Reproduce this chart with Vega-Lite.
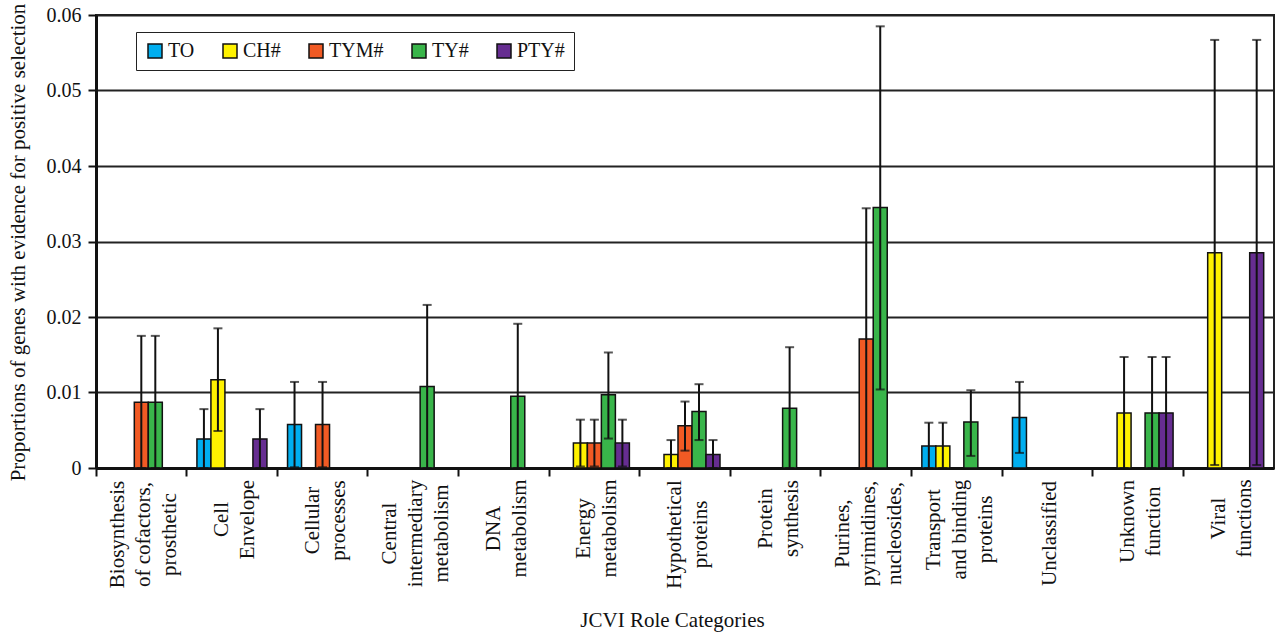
{
  "$schema": "https://vega.github.io/schema/vega-lite/v6.json",
  "width": 1178,
  "height": 453,
  "autosize": "none",
  "padding": {"left": 96, "top": 15, "right": 2, "bottom": 165},
  "background": "white",
  "config": {
    "font": "Liberation Serif",
    "view": {"stroke": "#222", "strokeWidth": 2},
    "axis": {"labelFont": "Liberation Serif", "titleFont": "Liberation Serif", "labelColor": "#111", "titleColor": "#111", "titleFontWeight": "normal"},
    "legend": {"labelFont": "Liberation Serif"}
  },
  "data": {
    "values": [
      {"category": "Biosynthesis of cofactors, prosthetic", "series": "TYM#", "value": 0.0087, "lo": 0.0, "hi": 0.0175},
      {"category": "Biosynthesis of cofactors, prosthetic", "series": "TY#", "value": 0.0087, "lo": 0.0, "hi": 0.0175},
      {"category": "Cell Envelope", "series": "TO", "value": 0.00385, "lo": 0.0, "hi": 0.0078},
      {"category": "Cell Envelope", "series": "CH#", "value": 0.0117, "lo": 0.0049, "hi": 0.0185},
      {"category": "Cell Envelope", "series": "PTY#", "value": 0.00385, "lo": 0.0, "hi": 0.0078},
      {"category": "Cellular processes", "series": "TO", "value": 0.00575, "lo": 0.0001, "hi": 0.0114},
      {"category": "Cellular processes", "series": "TYM#", "value": 0.00575, "lo": 0.0001, "hi": 0.0114},
      {"category": "Central intermediary metabolism", "series": "TY#", "value": 0.0108, "lo": 0.0, "hi": 0.0216},
      {"category": "DNA metabolism", "series": "TY#", "value": 0.0095, "lo": 0.0, "hi": 0.0191},
      {"category": "Energy metabolism", "series": "CH#", "value": 0.0033, "lo": 0.0002, "hi": 0.0064},
      {"category": "Energy metabolism", "series": "TYM#", "value": 0.0033, "lo": 0.0002, "hi": 0.0064},
      {"category": "Energy metabolism", "series": "TY#", "value": 0.0097, "lo": 0.0039, "hi": 0.0153},
      {"category": "Energy metabolism", "series": "PTY#", "value": 0.0033, "lo": 0.0002, "hi": 0.0064},
      {"category": "Hypothetical proteins", "series": "CH#", "value": 0.0018, "lo": 0.0, "hi": 0.0037},
      {"category": "Hypothetical proteins", "series": "TYM#", "value": 0.0056, "lo": 0.0023, "hi": 0.0088},
      {"category": "Hypothetical proteins", "series": "TY#", "value": 0.0075, "lo": 0.0037, "hi": 0.0111},
      {"category": "Hypothetical proteins", "series": "PTY#", "value": 0.0018, "lo": 0.0, "hi": 0.0037},
      {"category": "Protein synthesis", "series": "TY#", "value": 0.0079, "lo": 0.0, "hi": 0.016},
      {"category": "Purines, pyrimidines, nucleosides,", "series": "TYM#", "value": 0.0171, "lo": 0.0, "hi": 0.0344},
      {"category": "Purines, pyrimidines, nucleosides,", "series": "TY#", "value": 0.0345, "lo": 0.0104, "hi": 0.0585},
      {"category": "Transport and binding proteins", "series": "TO", "value": 0.0029, "lo": 0.0, "hi": 0.006},
      {"category": "Transport and binding proteins", "series": "CH#", "value": 0.0029, "lo": 0.0, "hi": 0.006},
      {"category": "Transport and binding proteins", "series": "TY#", "value": 0.0061, "lo": 0.0016, "hi": 0.0103},
      {"category": "Unclassified", "series": "TO", "value": 0.0067, "lo": 0.002, "hi": 0.0114},
      {"category": "Unknown function", "series": "CH#", "value": 0.0073, "lo": 0.0, "hi": 0.0147},
      {"category": "Unknown function", "series": "TY#", "value": 0.0073, "lo": 0.0, "hi": 0.0147},
      {"category": "Unknown function", "series": "PTY#", "value": 0.0073, "lo": 0.0, "hi": 0.0147},
      {"category": "Viral functions", "series": "CH#", "value": 0.0285, "lo": 0.0004, "hi": 0.0567},
      {"category": "Viral functions", "series": "PTY#", "value": 0.0285, "lo": 0.0004, "hi": 0.0567}
    ]
  },
  "encoding": {
    "x": {
      "field": "category",
      "type": "nominal",
      "sort": ["Biosynthesis of cofactors, prosthetic", "Cell Envelope", "Cellular processes", "Central intermediary metabolism", "DNA metabolism", "Energy metabolism", "Hypothetical proteins", "Protein synthesis", "Purines, pyrimidines, nucleosides,", "Transport and binding proteins", "Unclassified", "Unknown function", "Viral functions"],
      "scale": {"paddingInner": 0, "paddingOuter": 0},
      "axis": {
        "title": "JCVI Role Categories",
        "titleFontSize": 21,
        "titleX": 576,
        "titleY": 141,
        "titleBaseline": "top",
        "titleAnchor": "middle",
        "bandPosition": 0,
        "labelOffset": {"expr": "{'Biosynthesis of cofactors, prosthetic': -23, 'Central intermediary metabolism': -23, 'Purines, pyrimidines, nucleosides,': -23, 'Transport and binding proteins': -23, 'Unclassified': 3}[datum.value] || -10"},
        "labelAngle": -90,
        "labelAlign": "center",
        "labelBaseline": "middle",
        "labelFontSize": 21,
        "labelLineHeight": 26,
        "labelLimit": 0,
        "labelOverlap": false,
        "labelBound": false,
        "labelExpr": "{'Biosynthesis of cofactors, prosthetic': ['Biosynthesis', 'of cofactors,', 'prosthetic'], 'Cell Envelope': ['Cell', 'Envelope'], 'Cellular processes': ['Cellular', 'processes'], 'Central intermediary metabolism': ['Central', 'intermediary', 'metabolism'], 'DNA metabolism': ['DNA', 'metabolism'], 'Energy metabolism': ['Energy', 'metabolism'], 'Hypothetical proteins': ['Hypothetical', 'proteins'], 'Protein synthesis': ['Protein', 'synthesis'], 'Purines, pyrimidines, nucleosides,': ['Purines,', 'pyrimidines,', 'nucleosides,'], 'Transport and binding proteins': ['Transport', 'and binding', 'proteins'], 'Unclassified': ['Unclassified'], 'Unknown function': ['Unknown', 'function'], 'Viral functions': ['Viral', 'functions']}[datum.value]",
        "labelPadding": {"expr": "{'Biosynthesis of cofactors, prosthetic': 58, 'Cell Envelope': 43, 'Cellular processes': 44, 'Central intermediary metabolism': 57, 'DNA metabolism': 52, 'Energy metabolism': 52, 'Hypothetical proteins': 58, 'Protein synthesis': 42, 'Purines, pyrimidines, nucleosides,': 57, 'Transport and binding proteins': 53, 'Unclassified': 57, 'Unknown function': 45, 'Viral functions': 42}[datum.value]"},
        "tickSize": 8,
        "tickWidth": 2,
        "tickColor": "#111",
        "domainColor": "#111",
        "domainWidth": 3,
        "grid": false
      }
    },
    "xOffset": {
      "field": "series",
      "type": "nominal",
      "scale": {"domain": ["TO", "CH#", "TYM#", "TY#", "PTY#"], "paddingInner": 0, "paddingOuter": 0.736}
    }
  },
  "layer": [
    {
      "mark": {"type": "bar", "stroke": "#111", "strokeWidth": 1.5},
      "encoding": {
        "y": {
          "field": "value",
          "type": "quantitative",
          "scale": {"domain": [0, 0.06], "nice": false},
          "axis": {
            "title": "Proportions of genes with evidence for positive selection",
            "titleFontSize": 21,
            "titleX": -78,
            "titleY": 227,
            "titleBaseline": "middle",
            "titleAngle": -90,
            "values": [0, 0.01, 0.02, 0.03, 0.04, 0.05, 0.06],
            "labelExpr": "datum.value == 0 ? '0' : format(datum.value, '.2f')",
            "labelFontSize": 20,
            "labelPadding": 7,
            "tickSize": 8,
            "tickWidth": 2,
            "tickColor": "#111",
            "domainColor": "#111",
            "domainWidth": 3,
            "grid": true,
            "gridColor": "#222",
            "gridWidth": 1.8
          }
        },
        "color": {
          "field": "series",
          "type": "nominal",
          "scale": {"domain": ["TO", "CH#", "TYM#", "TY#", "PTY#"], "range": ["#00AEEF", "#FFF200", "#F15A24", "#39B54A", "#662D91"]},
          "legend": {
            "title": null,
            "orient": "none",
            "legendX": 40,
            "legendY": 17,
            "direction": "horizontal",
            "columns": 5,
            "columnPadding": 25,
            "symbolType": "square",
            "symbolSize": 196,
            "symbolStrokeColor": "#111",
            "symbolStrokeWidth": 1.5,
            "symbolOpacity": 1,
            "labelFontSize": 20,
            "labelColor": "#111",
            "labelOffset": 3,
            "strokeColor": "#222",
            "padding": 9,
            "fillColor": "white"
          }
        }
      }
    },
    {
      "mark": {"type": "rule", "color": "#111", "strokeWidth": 2},
      "encoding": {
        "y": {"field": "lo", "type": "quantitative"},
        "y2": {"field": "hi"}
      }
    },
    {
      "mark": {"type": "tick", "color": "#111", "thickness": 2, "size": 9},
      "encoding": {
        "y": {"field": "hi", "type": "quantitative"}
      }
    },
    {
      "mark": {"type": "tick", "color": "#111", "thickness": 2, "size": 9},
      "encoding": {
        "y": {"field": "lo", "type": "quantitative"}
      }
    }
  ]
}
